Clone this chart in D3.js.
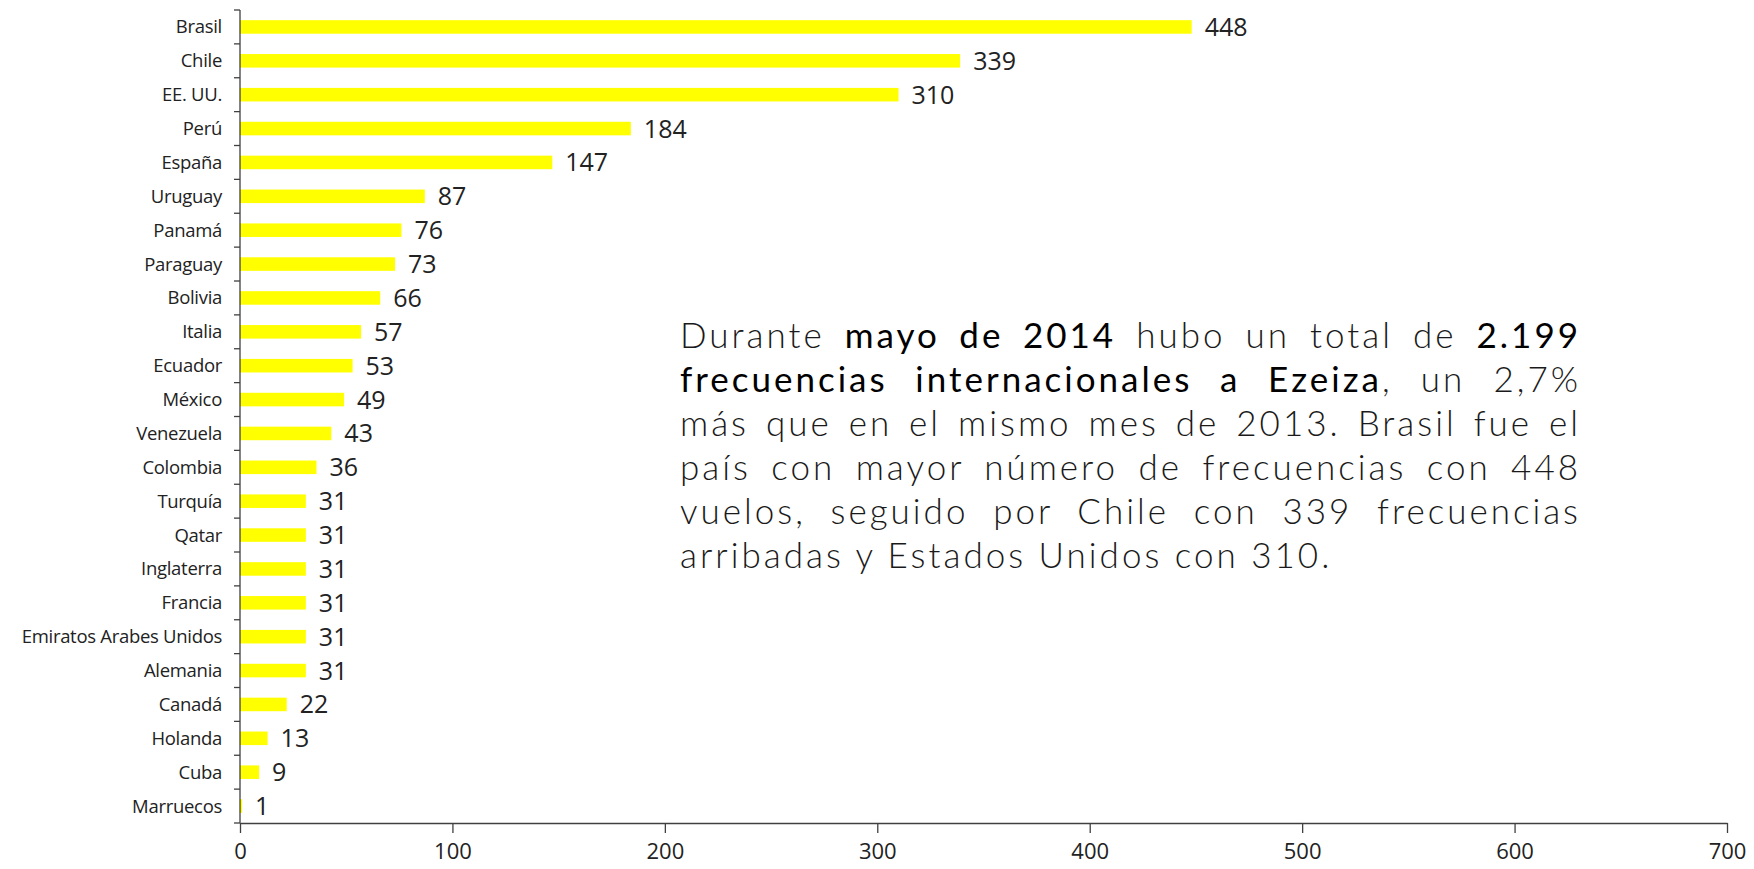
<!DOCTYPE html>
<head>
  <meta charset="utf-8">
  <title>Frecuencias internacionales a Ezeiza</title>
</head>
<style>
  body { margin: 0; background: #fff; }
  .wrap { position: relative; width: 1754px; height: 869px; }
  .axis path, .axis line { stroke: #404040; stroke-width: 1.3px; }
  .axis text { font-family: "Open Sans", sans-serif; font-size: 22px; fill: #222; }
  .cat { font-family: "Open Sans", sans-serif; font-size: 18.5px; fill: #222; text-anchor: end; letter-spacing: -0.3px; }
  .val { font-family: "Open Sans", sans-serif; font-size: 25px; fill: #222; }
  .nota {
    position: absolute;
    left: 680px;
    top: 312px;
    width: 901px;
    font-family: Lato, sans-serif;
    font-weight: 300;
    font-size: 35px;
    line-height: 44px;
    letter-spacing: 3px;
    color: #1a1a1a;
  }
  .nota div { text-align: justify; text-align-last: justify; white-space: nowrap; }
  .nota div.last { text-align-last: left; }
  .nota b { font-weight: 400; color: #000; }
</style>
<div class="wrap">
  <svg id="chart" width="1754" height="869"></svg>
  <div class="nota">
    <div>Durante <b>mayo de 2014</b> hubo un total de <b>2.199</b></div>
    <div><b>frecuencias internacionales a Ezeiza</b>, un 2,7%</div>
    <div>más que en el mismo mes de 2013. Brasil fue el</div>
    <div>país con mayor número de frecuencias con 448</div>
    <div>vuelos, seguido por Chile con 339 frecuencias</div>
    <div class="last">arribadas y Estados Unidos con 310.</div>
  </div>
</div>
<script src="https://d3js.org/d3.v7.min.js"></script>
<script>
  var paises = ["Brasil", "Chile", "EE. UU.", "Perú", "España", "Uruguay", "Panamá", "Paraguay",
    "Bolivia", "Italia", "Ecuador", "México", "Venezuela", "Colombia", "Turquía", "Qatar",
    "Inglaterra", "Francia", "Emiratos Arabes Unidos", "Alemania", "Canadá", "Holanda", "Cuba", "Marruecos"];
  var vuelos = [448, 339, 310, 184, 147, 87, 76, 73, 66, 57, 53, 49, 43, 36, 31, 31, 31, 31, 31, 31, 22, 13, 9, 1];
  var xTicks = [0, 100, 200, 300, 400, 500, 600, 700];

  var svg = d3.select("#chart"),
    margin = { top: 10, right: 27, bottom: 46, left: 240 },
    width = +svg.attr("width"),
    height = +svg.attr("height");

  var x = d3.scaleLinear()
    .domain([0, 700])
    .range([margin.left, width - margin.right]);

  var y = d3.scaleBand()
    .domain(paises)
    .range([margin.top, height - margin.bottom])
    .paddingInner(0.6)
    .paddingOuter(0.3);

  var data = paises.map(function (p, i) { return { pais: p, n: vuelos[i] }; });

  // barras
  svg.append("g").selectAll("rect")
    .data(data)
    .enter().append("rect")
    .attr("x", x(0))
    .attr("y", function (d) { return y(d.pais); })
    .attr("width", function (d) { return x(d.n) - x(0); })
    .attr("height", y.bandwidth())
    .attr("fill", "#ffff00");

  // valores
  svg.append("g").selectAll("text")
    .data(data)
    .enter().append("text")
    .attr("class", "val")
    .attr("x", function (d) { return x(d.n) + 13; })
    .attr("y", function (d) { return y(d.pais) + y.bandwidth() / 2; })
    .attr("dy", "0.36em")
    .text(function (d) { return d.n; });

  // eje x
  svg.append("g")
    .attr("class", "axis")
    .attr("transform", "translate(0," + (height - margin.bottom) + ")")
    .call(d3.axisBottom(x).tickValues(xTicks).tickSize(10).tickSizeOuter(0).tickPadding(10));

  // eje y: linea con marcas entre categorias
  var step = y.step(),
    y0 = y.range()[0];
  var gy = svg.append("g").attr("class", "axis");
  gy.append("line")
    .attr("x1", x(0)).attr("x2", x(0))
    .attr("y1", y0).attr("y2", y.range()[1]);
  gy.selectAll(".tk")
    .data(d3.range(paises.length + 1))
    .enter().append("line")
    .attr("x1", x(0) - 6).attr("x2", x(0))
    .attr("y1", function (i) { return y0 + i * step; })
    .attr("y2", function (i) { return y0 + i * step; });

  svg.append("g").selectAll("text")
    .data(paises)
    .enter().append("text")
    .attr("class", "cat")
    .attr("x", x(0) - 18)
    .attr("y", function (d) { return y(d) + y.bandwidth() / 2; })
    .attr("dy", "0.35em")
    .text(function (d) { return d; });
</script>
